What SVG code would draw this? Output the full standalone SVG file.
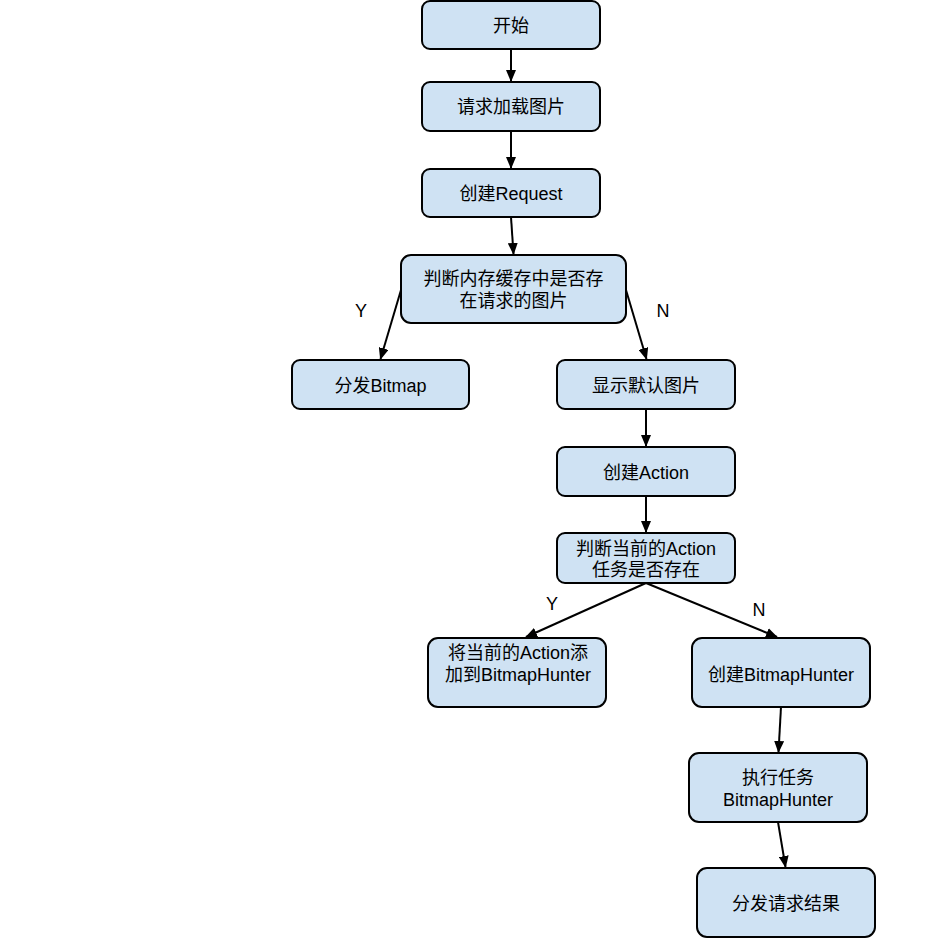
<svg xmlns="http://www.w3.org/2000/svg" width="952" height="952" viewBox="0 0 952 952">
<style>
.box{fill:#cfe2f3;stroke:#000;stroke-width:2}
.t{font-family:"Liberation Sans","Noto Sans CJK SC",sans-serif;font-size:18px;fill:#000;text-anchor:middle}
.c{stroke:#000;stroke-width:2;fill:none;marker-end:url(#ah)}
</style>
<defs>
<marker id="ah" markerWidth="12" markerHeight="10" refX="11" refY="5" orient="auto" markerUnits="userSpaceOnUse">
<path d="M0,0 L12,5 L0,10 Z" fill="#000"/>
</marker>
</defs>
<rect width="952" height="952" fill="#fff"/>
<g id="connectors">
<line class="c" x1="511" y1="49" x2="511" y2="81"/>
<line class="c" x1="511" y1="131" x2="511" y2="168"/>
<line class="c" x1="511" y1="217" x2="513.5" y2="254"/>
<line class="c" x1="401" y1="290" x2="380.5" y2="359"/>
<line class="c" x1="626" y1="290" x2="646.5" y2="359"/>
<line class="c" x1="646" y1="409" x2="646" y2="446"/>
<line class="c" x1="646" y1="496" x2="646" y2="532"/>
<line class="c" x1="646" y1="583" x2="526" y2="637"/>
<line class="c" x1="646" y1="583" x2="777" y2="637"/>
<line class="c" x1="781" y1="707" x2="778.5" y2="752"/>
<line class="c" x1="778" y1="822" x2="785.5" y2="867"/>
<text class="t" x="361" y="317">Y</text>
<text class="t" x="663" y="317">N</text>
<text class="t" x="552" y="610">Y</text>
<text class="t" x="759" y="616">N</text>
</g>
<g id="n1"><rect class="box" x="422" y="1" width="178" height="48" rx="8"/><text class="t" x="511" y="32">开始</text></g>
<g id="n2"><rect class="box" x="422" y="82" width="178" height="49" rx="8"/><text class="t" x="511" y="113">请求加载图片</text></g>
<g id="n3"><rect class="box" x="422" y="169" width="178" height="48" rx="8"/><text class="t" x="511" y="200">创建Request</text></g>
<g id="n4"><rect class="box" x="401" y="255" width="225" height="68" rx="10"/><text class="t" x="513.5" y="285">判断内存缓存中是否存</text><text class="t" x="513.5" y="307">在请求的图片</text></g>
<g id="n5"><rect class="box" x="292" y="360" width="177" height="49" rx="8"/><text class="t" x="380.5" y="392">分发Bitmap</text></g>
<g id="n6"><rect class="box" x="557" y="360" width="178" height="49" rx="8"/><text class="t" x="646" y="392">显示默认图片</text></g>
<g id="n7"><rect class="box" x="557" y="447" width="178" height="49" rx="8"/><text class="t" x="646" y="479">创建Action</text></g>
<g id="n8"><rect class="box" x="557" y="533" width="178" height="50" rx="8"/><text class="t" x="646" y="555">判断当前的Action</text><text class="t" x="646" y="576">任务是否存在</text></g>
<g id="n9"><rect class="box" x="428" y="638" width="178" height="69" rx="10"/><text class="t" x="518" y="658.5">将当前的Action添</text><text class="t" x="518" y="681">加到BitmapHunter</text></g>
<g id="n10"><rect class="box" x="692" y="638" width="178" height="69" rx="10"/><text class="t" x="781" y="681">创建BitmapHunter</text></g>
<g id="n11"><rect class="box" x="689" y="753" width="178" height="69" rx="10"/><text class="t" x="778" y="784">执行任务</text><text class="t" x="778" y="806">BitmapHunter</text></g>
<g id="n12"><rect class="box" x="697" y="868" width="178" height="69" rx="10"/><text class="t" x="786" y="910">分发请求结果</text></g>
</svg>
